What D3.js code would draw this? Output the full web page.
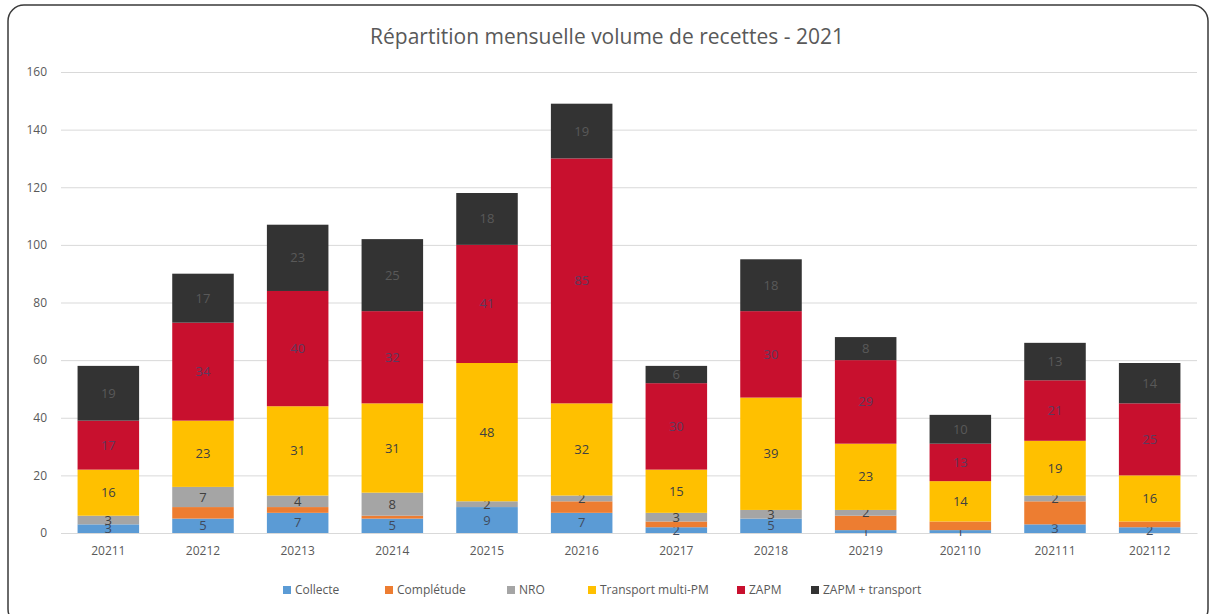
<!DOCTYPE html>
<html>
<head>
<meta charset="utf-8">
<script src="https://cdn.jsdelivr.net/npm/d3@7"></script>
<style>
  body { margin: 0; background: #fff; }
  text { font-family: "Open Sans", "Noto Sans", sans-serif; }
</style>
</head>
<body>
<script>
var width = 1214,
    height = 614;

// data
var months = ["20211", "20212", "20213", "20214", "20215", "20216",
              "20217", "20218", "20219", "202110", "202111", "202112"];
var collecte   = [3, 5, 7, 5, 9, 7, 2, 5, 1, 1, 3, 2];
var completude = [0, 4, 2, 1, 0, 4, 2, 0, 5, 3, 8, 2];
var nro        = [3, 7, 4, 8, 2, 2, 3, 3, 2, 0, 2, 0];
var transport  = [16, 23, 31, 31, 48, 32, 15, 39, 23, 14, 19, 16];
var zapm       = [17, 34, 40, 32, 41, 85, 30, 30, 29, 13, 21, 25];
var zapmTrans  = [19, 17, 23, 25, 18, 19, 6, 18, 8, 10, 13, 14];
var yTicks = [0, 20, 40, 60, 80, 100, 120, 140, 160];

var seriesNames = ["Collecte", "Complétude", "NRO", "Transport multi-PM", "ZAPM", "ZAPM + transport"];
var seriesValues = [collecte, completude, nro, transport, zapm, zapmTrans];
var colors = ["#5b9bd5", "#ed7d31", "#a5a5a5", "#ffc000", "#c8102e", "#333333"];
var labelColors = ["#404a5c", null, "#404040", "#404040", "#5e3a5e", "#595959"];

var rows = months.map(function (m, i) {
    var r = { month: m };
    seriesNames.forEach(function (s, k) { r[s] = seriesValues[k][i]; });
    return r;
});

var svg = d3.select("body").append("svg")
    .attr("width", width)
    .attr("height", height)

// chart frame
svg.append("rect")
    .attr("x", 8).attr("y", 5)
    .attr("width", 1200).attr("height", 620)
    .attr("rx", 16)
    .attr("fill", "#fff")
    .attr("stroke", "#3a3a3a")
    .attr("stroke-width", 1.5)

var x = d3.scaleBand()
    .domain(months)
    .range([61, 1197])
    .paddingInner(0.35)
    .paddingOuter(0.175)

var y = d3.scaleLinear()
    .domain([0, 160])
    .range([533, 72])

/* gridlines and y labels */
svg.append("g")
    .attr("transform", "translate(61,0)")
    .call(d3.axisLeft(y).tickValues(yTicks).tickSize(-1136).tickPadding(14))
    .call(function (g) {
        g.select(".domain").remove();
        g.selectAll(".tick line").attr("stroke", "#d9d9d9").attr("stroke-width", 1);
        g.selectAll(".tick text").attr("fill", "#595959").attr("font-size", 12)
            .attr("font-family", "'Open Sans', sans-serif");
    })

/* x labels */
svg.append("g")
    .attr("transform", "translate(0,533)")
    .call(d3.axisBottom(x).tickSize(0).tickPadding(13))
    .call(function (g) {
        g.select(".domain").attr("stroke", "#d9d9d9");
        g.selectAll(".tick text").attr("fill", "#595959").attr("font-size", 12)
            .attr("font-family", "'Open Sans', sans-serif");
    })

var stack = d3.stack().keys(seriesNames);
var layers = stack(rows);

var layer = svg.selectAll("g.layer")
    .data(layers)
    .enter().append("g")
    .attr("class", "layer")
    .attr("fill", function (d, i) { return colors[i]; })

layer.selectAll("rect")
    .data(function (d) { return d; })
    .enter().append("rect")
    .attr("x", function (d) { return x(d.data.month); })
    .attr("width", x.bandwidth())
    .attr("y", function (d) { return y(d[1]); })
    .attr("height", function (d) { return y(d[0]) - y(d[1]); })

/* data labels */
layer.each(function (l, i) {
    if (!labelColors[i]) return;
    d3.select(this).selectAll("text")
        .data(l.filter(function (d) { return d[1] - d[0] > 0; }))
        .enter().append("text")
        .attr("x", function (d) { return x(d.data.month) + x.bandwidth() / 2; })
        .attr("y", function (d) { return (y(d[0]) + y(d[1])) / 2; })
        .attr("dy", "0.35em")
        .attr("text-anchor", "middle")
        .attr("font-size", 13)
        .attr("fill", labelColors[i])
        .text(function (d) { return d[1] - d[0]; })
});

/* title */
svg.append("text")
    .attr("x", 607).attr("y", 44)
    .attr("text-anchor", "middle")
    .attr("font-size", 21)
    .attr("fill", "#595959")
    .text("Répartition mensuelle volume de recettes - 2021")

/* legend */
var legendX = [283, 385, 507, 588, 737, 811];
var legend = svg.selectAll("g.legend")
    .data(seriesNames)
    .enter().append("g")
    .attr("class", "legend")
    .attr("transform", function (d, i) { return "translate(" + legendX[i] + ",590)"; })

legend.append("rect")
    .attr("x", 0).attr("y", -4)
    .attr("width", 8).attr("height", 8)
    .attr("fill", function (d, i) { return colors[i]; })

legend.append("text")
    .attr("x", 12)
    .attr("dy", "0.35em")
    .attr("font-size", 12)
    .attr("fill", "#595959")
    .text(function (d) { return d; })
</script>
</body>
</html>
